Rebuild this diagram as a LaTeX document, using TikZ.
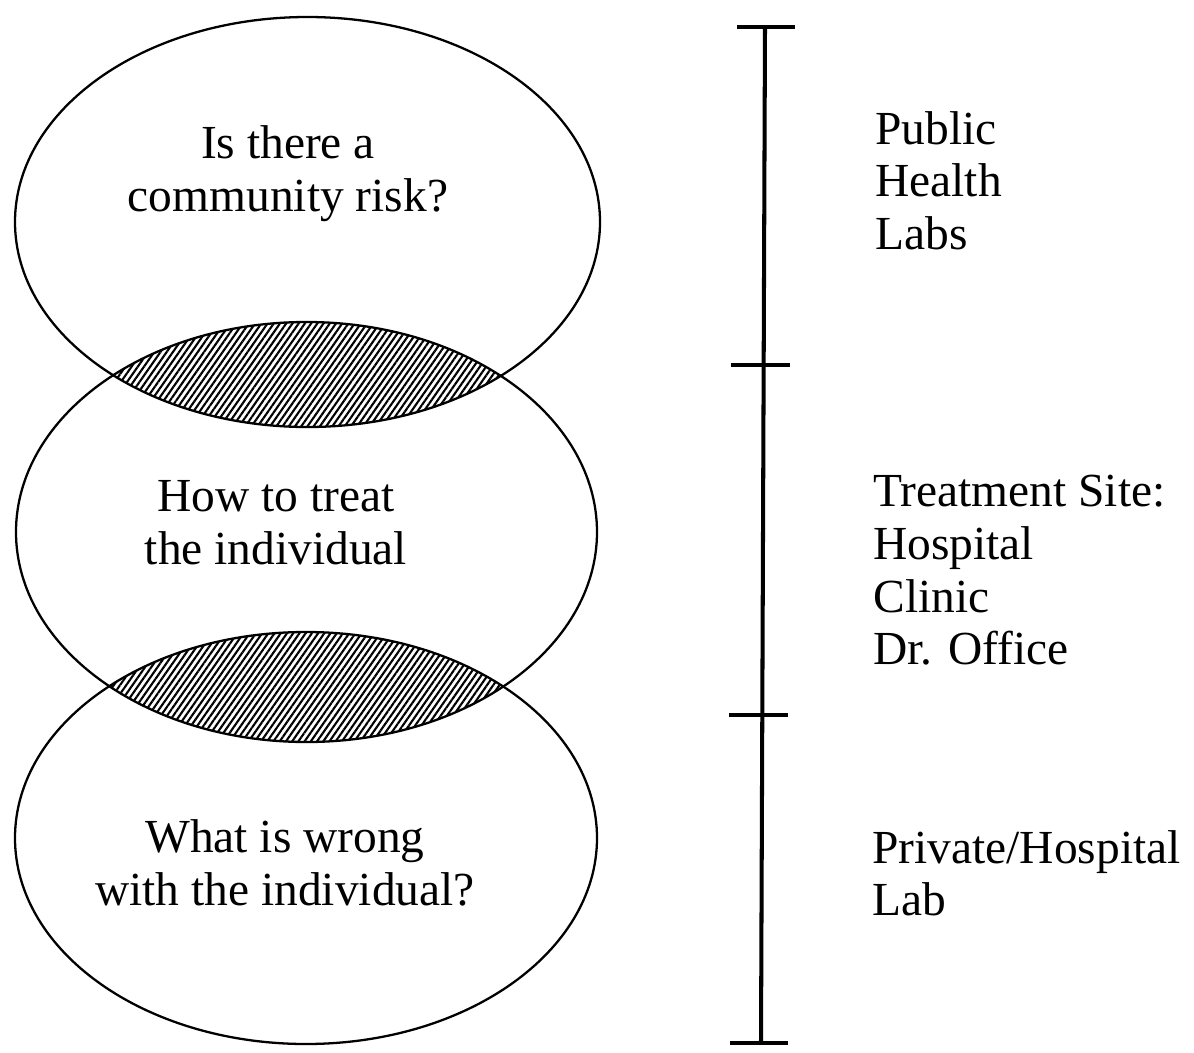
\documentclass[tikz,border=0pt]{standalone}
\usepackage{fontspec}
\setmainfont{Liberation Serif}
\usetikzlibrary{patterns.meta}

\begin{document}
\begin{tikzpicture}[
      x = 0.02cm, y = -0.02cm,
      every node/.style = {
        inner sep = 0pt, font = \fontsize{27}{30}\selectfont},
      question/.style = {align = center},
      site/.style = {align = left, anchor = north west},
      oval/.style = {line width = 1.3pt},
      bar/.style = {line width = 2.3pt},
      lens/.style = {pattern = {Lines[angle = 55, distance = 2.9pt, line width = 1.2pt]}}
      ]
    \useasboundingbox (0,0) rectangle (1194,1052);

    % hatched overlaps
    \begin{scope}
      \clip (307.5,222) ellipse [x radius = 292.5, y radius = 205];
      \fill[lens] (306.5,532) ellipse [x radius = 290.5, y radius = 210];
    \end{scope}
    \begin{scope}
      \clip (306.5,532) ellipse [x radius = 290.5, y radius = 210];
      \fill[lens] (306,838) ellipse [x radius = 291, y radius = 206];
    \end{scope}

    \draw[oval] (307.5,222) ellipse [x radius = 292.5, y radius = 205]; % top
    \draw[oval] (306.5,532) ellipse [x radius = 290.5, y radius = 210]; % middle
    \draw[oval] (306,838) ellipse [x radius = 291, y radius = 206]; % bottom

    \node[question] (Q1) at (288,174) {Is there a\\community risk?};
    \node[question] (Q2) at (276,523) {How to treat\\the individual};
    \node[question] (Q3) at (285,863) {What is wrong\\with the individual?};

    \coordinate (T0) at (765,27);
    \coordinate (T1) at (764,365);
    \coordinate (T2) at (762,715);
    \coordinate (T3) at (761,1043);

    \draw[bar] (T0)--(T3);
    \draw[bar] (T0) ++(-28,0) -- ++(58,0);
    \draw[bar] (T1) ++(-33,0) -- ++(59,0);
    \draw[bar] (T2) ++(-33,0) -- ++(59,0);
    \draw[bar] (T3) ++(-31,0) -- ++(58,0);

    \node[site] (L1) at (875,111) {Public\\Health\\Labs};
    \node[site] (L2) at (873,475) {Treatment Site:\\Hospital\\Clinic\\Dr. Office};
    \node[site] (L3) at (872,830) {Private/Hospital\\Lab};
  \end{tikzpicture}
\end{document}
